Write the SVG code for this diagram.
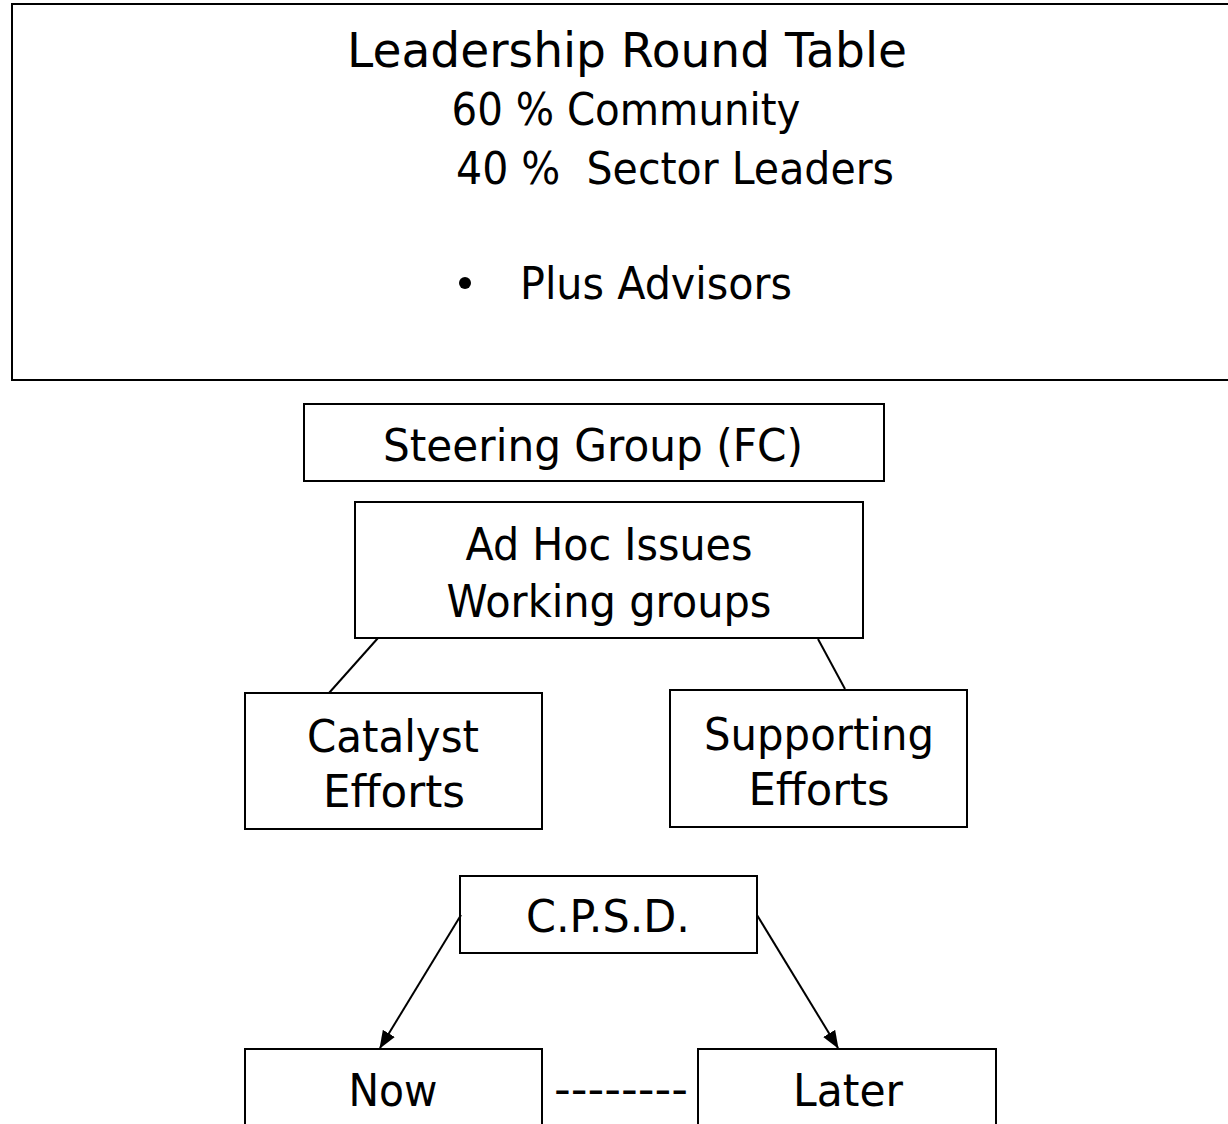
<svg xmlns="http://www.w3.org/2000/svg" width="1228" height="1124" viewBox="0 0 1228 1124">
<style>
rect.box{fill:#fff;stroke:#000;stroke-width:2}
text{font-family:"DejaVu Sans","Liberation Sans",sans-serif;font-size:44px;fill:#000;text-anchor:middle}
text.big{font-size:48px}
.conn line{stroke:#000;stroke-width:2}
</style>
<defs>
<marker id="ah" markerWidth="18" markerHeight="14" refX="17" refY="7" orient="auto" markerUnits="userSpaceOnUse">
<path d="M0,0 L18,7 L0,14 Z" fill="#000"/>
</marker>
</defs>
<rect width="1228" height="1124" fill="#fff"/>
<g id="leadership">
<rect class="box" x="12" y="4" width="1230" height="376"/>
<text class="big" x="627" y="67" textLength="560" lengthAdjust="spacingAndGlyphs">Leadership Round Table</text>
<text x="626" y="125" textLength="349" lengthAdjust="spacingAndGlyphs">60 % Community</text>
<text x="675" y="184" textLength="438" lengthAdjust="spacingAndGlyphs" xml:space="preserve">40 %  Sector Leaders</text>
<circle cx="465" cy="283" r="6" fill="#000"/>
<text x="656" y="299" textLength="272" lengthAdjust="spacingAndGlyphs">Plus Advisors</text>
</g>
<g id="steering">
<rect class="box" x="304" y="404" width="580" height="77"/>
<text x="593" y="461" textLength="420" lengthAdjust="spacingAndGlyphs">Steering Group (FC)</text>
</g>
<g id="adhoc">
<rect class="box" x="355" y="502" width="508" height="136"/>
<text x="609" y="560" textLength="287" lengthAdjust="spacingAndGlyphs">Ad Hoc Issues</text>
<text x="609" y="617" textLength="325" lengthAdjust="spacingAndGlyphs">Working groups</text>
</g>
<g id="catalyst">
<rect class="box" x="245" y="693" width="297" height="136"/>
<text x="393" y="752" textLength="172" lengthAdjust="spacingAndGlyphs">Catalyst</text>
<text x="394" y="807" textLength="142" lengthAdjust="spacingAndGlyphs">Efforts</text>
</g>
<g id="supporting">
<rect class="box" x="670" y="690" width="297" height="137"/>
<text x="819" y="750" textLength="230" lengthAdjust="spacingAndGlyphs">Supporting</text>
<text x="819" y="805" textLength="141" lengthAdjust="spacingAndGlyphs">Efforts</text>
</g>
<g id="cpsd">
<rect class="box" x="460" y="876" width="297" height="77"/>
<text x="608" y="932" textLength="164" lengthAdjust="spacingAndGlyphs">C.P.S.D.</text>
</g>
<g id="now">
<rect class="box" x="245" y="1049" width="297" height="90"/>
<text x="393" y="1106" textLength="89" lengthAdjust="spacingAndGlyphs">Now</text>
</g>
<g id="later">
<rect class="box" x="698" y="1049" width="298" height="90"/>
<text x="848" y="1106" textLength="110" lengthAdjust="spacingAndGlyphs">Later</text>
</g>
<g id="dash">
<text x="621" y="1104" textLength="134" lengthAdjust="spacingAndGlyphs">--------</text>
</g>
<g class="conn" id="connectors">
<line x1="378" y1="638" x2="329" y2="693"/>
<line x1="818" y1="639" x2="845" y2="689"/>
<line x1="461" y1="915" x2="380" y2="1048" marker-end="url(#ah)"/>
<line x1="757" y1="915" x2="838" y2="1048" marker-end="url(#ah)"/>
</g>
</svg>
